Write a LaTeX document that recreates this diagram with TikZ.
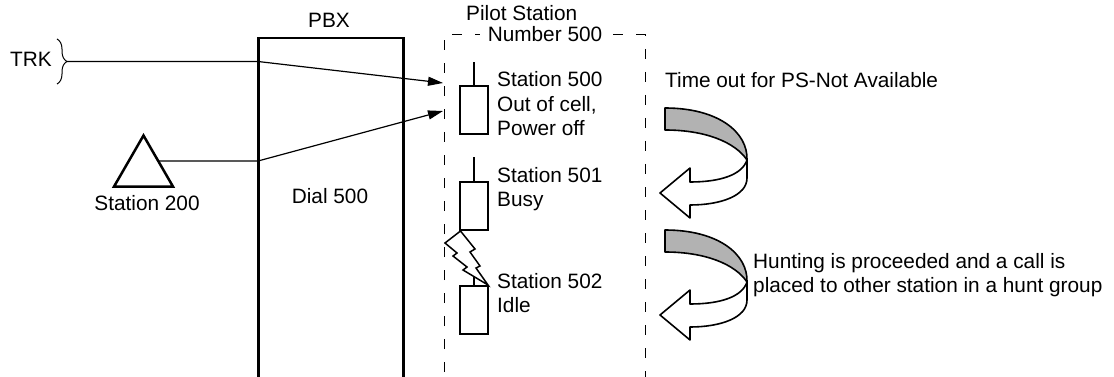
\documentclass[tikz,border=0pt]{standalone}
\usepackage{fontspec}
\setmainfont{Liberation Sans}
\usetikzlibrary{arrows.meta,decorations.pathreplacing,shapes.geometric}
\begin{document}
\begin{tikzpicture}[x=1pt,y=-1pt,
  font=\fontsize{20.8}{24.3}\selectfont,
  lbl/.style={inner sep=0pt, anchor=base west, align=left},
  clbl/.style={inner sep=0pt, anchor=base},
  thickbox/.style={draw, line width=2.5pt, inner sep=0pt},
  phone/.style={draw, line width=2pt, minimum width=28pt, minimum height=48pt, inner sep=0pt},
  antenna/.style={line width=2pt},
  conn/.style={line width=1.2pt, -{Triangle[length=15pt,width=9pt]}},
  dashbox/.style={line width=1pt, dash pattern=on 10pt off 13pt},
  ribbon/.style={draw, line width=1.6pt, line join=round},
]
\useasboundingbox (0,0) rectangle (1114,377);

% PBX
\node[thickbox, minimum width=145pt, minimum height=360pt, anchor=north west] (pbx) at (257,37) {};
\node[clbl] (pbxl) at (329,28) {PBX};
\node[clbl] (dial) at (330,203) {Dial 500};

% TRK with brace
\node[lbl] (trkl) at (10,67) {TRK};
\draw[line width=1pt, decorate, decoration={brace, amplitude=10pt}] (57,39) -- (57,84);
\coordinate (trk) at (67,61.5);
\coordinate (trkbend) at (258,61.5);
\coordinate (in1) at (443,83);
\draw[conn] (trk) -- (trkbend) -- (in1);

% Station 200
\node[draw, regular polygon, regular polygon sides=3, minimum size=68pt, line width=2.5pt, inner sep=0pt] (st200) at (143.5,169.5) {};
\node[clbl] (st200l) at (147,211) {Station 200};
\coordinate (s200out) at (158,161);
\coordinate (s200bend) at (258,161);
\coordinate (in2) at (443,111);
\draw[conn] (s200out) -- (s200bend) -- (in2);

% Pilot station dashed box
\draw[dashbox] (444,395) -- (444,35) -- (645,35) -- (645,395);
\node[lbl] (pilot) at (466,21) {Pilot Station};
\node[clbl, fill=white, inner xsep=8pt, inner ysep=2pt] (num) at (545,42) {Number 500};

% Phones (multi-line labels are placed by the baseline of their last line)
\node[phone] (p500) at (474,110.5) {};
\draw[antenna] (p500.north) -- ++(0,-23);
\node[lbl] (t500) at (497,135.6) {Station 500\\Out of cell,\\Power off};

\node[phone] (p501) at (474,206) {};
\draw[antenna] (p501.north) -- ++(0,-24);
\node[lbl] (t501) at (497,206.3) {Station 501\\Busy};

\node[phone] (p502) at (474,309.5) {};
\draw[antenna] (p502.north) -- ++(0,-9);
\node[lbl] (t502) at (497,312.3) {Station 502\\Idle};

% lightning
\draw[line width=1.5pt, fill=white, line join=miter]
  (460.5,231) -- (475,249) -- (470,252) -- (480,266) -- (476,268) -- (488,285)
  -- (463,270) -- (467,267) -- (453,256) -- (457,253) -- (445,243) -- cycle;

% curved ribbon arrows
\foreach \dy in {0,122} {
  \begin{scope}[yshift=-\dy pt]
    \filldraw[ribbon, fill=black!30]
      (665,108) .. controls (718,108) and (748,132) .. (747,160)
      .. controls (735,142) and (705,130) .. (665,130) -- cycle;
    \filldraw[ribbon, fill=white]
      (747,160) -- (747,178) .. controls (747,196) and (720,205) .. (690,205)
      -- (690,218) -- (660,193) -- (690,168) -- (690,182)
      .. controls (720,182) and (742,175) .. (747,160) -- cycle;
  \end{scope}
}

\node[lbl] (timeout) at (665,88) {Time out for PS-Not Available};
\node[lbl] (hunt) at (753,292.5) {Hunting is proceeded and a call is\\placed to other station in a hunt group};
\end{tikzpicture}
\end{document}
